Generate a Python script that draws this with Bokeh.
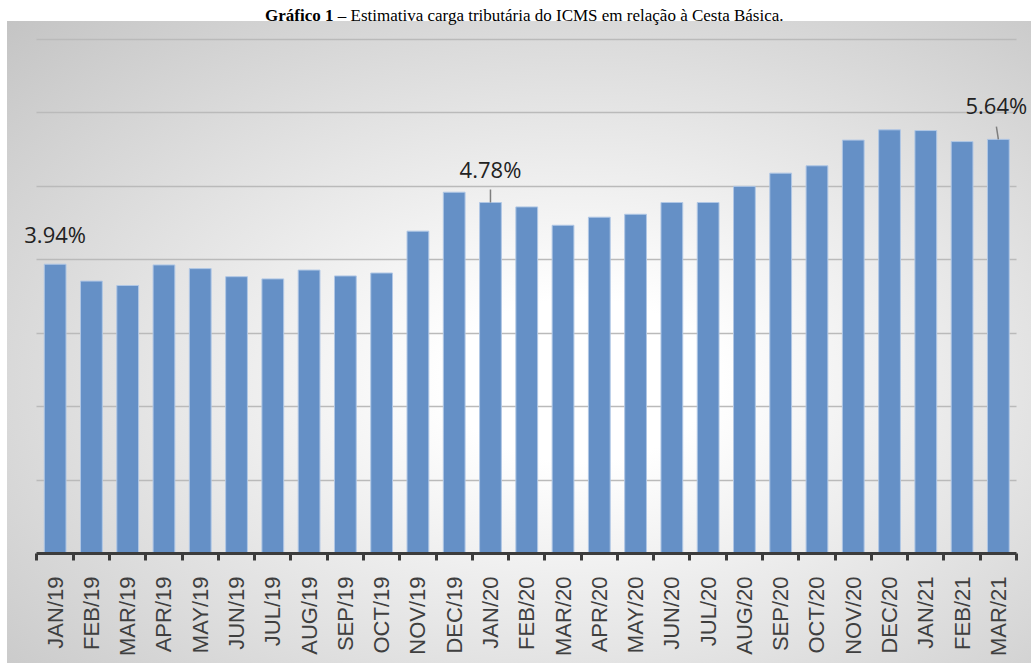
from math import pi
from bokeh.plotting import figure
from bokeh.models import ColumnDataSource, Range1d, FixedTicker, LabelSet, Label
from bokeh.core.properties import value
from bokeh.embed import file_html
from bokeh.resources import INLINE

# ---------------- data ----------------
months = ["JAN/19", "FEB/19", "MAR/19", "APR/19", "MAY/19", "JUN/19", "JUL/19",
          "AUG/19", "SEP/19", "OCT/19", "NOV/19", "DEC/19", "JAN/20", "FEB/20",
          "MAR/20", "APR/20", "MAY/20", "JUN/20", "JUL/20", "AUG/20", "SEP/20",
          "OCT/20", "NOV/20", "DEC/20", "JAN/21", "FEB/21", "MAR/21"]
icms_burden = [3.94, 3.71, 3.65, 3.93, 3.88, 3.77, 3.74, 3.86, 3.78, 3.82,
               4.39, 4.92, 4.78, 4.72, 4.47, 4.58, 4.62, 4.78, 4.78, 5.00,
               5.18, 5.28, 5.63, 5.77, 5.76, 5.61, 5.64]
labelled_months = ["JAN/19", "JAN/20", "MAR/21"]
label_texts = ["3.94%", "4.78%", "5.64%"]
grid_values = [1, 2, 3, 4, 5, 6, 7]
title_bold = "Gráfico 1"
title_rest = "\u00a0– Estimativa carga tributária do ICMS em relação à Cesta Básica."

# ---------------- styles ----------------
label_dx = [0, 0, -2]
label_dy = [21, 25, 25]
leader_months = ["JAN/20", "MAR/21"]
leader_angles = [90, 98.7]

N = len(months)
idx = list(range(N))

W, H = 1031, 663
p = figure(width=W, height=H, title=None,
           x_range=Range1d(-1.5061, N - 0.5 + 0.4135),
           y_range=Range1d(-1.498, 7.5311),
           output_backend="svg", toolbar_location=None,
           min_border_left=0, min_border_right=0, min_border_top=0,
           min_border_bottom=0,
           background_fill_color=None, border_fill_color=None,
           outline_line_color=None)

p.styles = {
    "background-color": "#ffffff",
    "background-image": "radial-gradient(ellipse farthest-corner at 56% 56%, "
                        "#ffffff 0%, #ffffff 16%, #c4c4c4 100%)",
    "background-position": "7px 21px",
    "background-size": "calc(100% - 7px) calc(100% - 21px)",
    "background-repeat": "no-repeat",
}

src = ColumnDataSource(dict(x=idx, top=icms_burden, month=months))
p.vbar(x="x", top="top", width=0.6, bottom=0, source=src,
       fill_color="#6590c6", line_color="#b0c7e5", line_width=1)

# y grid only
p.yaxis.visible = False
p.yaxis.ticker = FixedTicker(ticks=grid_values)
p.ygrid.grid_line_color = "#bababa"
p.ygrid.grid_line_width = 1.5
try:
    p.ygrid.cross_bounds = (-0.5, N - 0.5)
except Exception:
    pass
p.xgrid.visible = False

ax = p.xaxis[0]
ax.fixed_location = 0
ax.bounds = (-0.5, N - 0.5)
ax.ticker = FixedTicker(ticks=idx, minor_ticks=[i - 0.5 for i in range(N + 1)])
ax.major_label_overrides = {i: m for i, m in enumerate(months)}
ax.major_label_orientation = pi / 2
ax.major_tick_out = 0
ax.major_tick_in = 0
ax.minor_tick_out = 7
ax.minor_tick_in = 0
ax.minor_tick_line_width = 3
ax.minor_tick_line_color = "#3c3c3c"
ax.axis_line_width = 3
ax.axis_line_color = "#3c3c3c"
ax.major_label_text_font = "Liberation Sans"
ax.major_label_text_font_size = "22px"
ax.major_label_text_color = "#3f3f3f"
ax.major_label_standoff = 16

# data labels
lx = [months.index(m) for m in labelled_months]
ly = [icms_burden[i] for i in lx]
lsrc = ColumnDataSource(dict(x=lx, y=ly, text=label_texts, dx=label_dx, dy=label_dy))
p.add_layout(LabelSet(x="x", y="y", text="text", source=lsrc,
                      x_offset="dx", y_offset="dy",
                      text_align="center", text_baseline="alphabetic",
                      text_font=value("Open Sans"), text_font_size=value("22px"),
                      text_color="#222222"))

rx = [months.index(m) for m in leader_months]
ry = [icms_burden[i] for i in rx]
p.ray(x=rx, y=ry, length=13, length_units="screen", angle=leader_angles,
      angle_units="deg", line_color="#7f7f7f", line_width=1.5)

# title
split_x = 333
title_y = H - 15
p.add_layout(Label(x=split_x, y=title_y, x_units="screen", y_units="screen",
                   text=title_bold, text_font="Liberation Serif",
                   text_font_style="bold", text_font_size="17px",
                   text_align="right", text_baseline="alphabetic",
                   text_color="#000000"))
p.add_layout(Label(x=split_x, y=title_y, x_units="screen", y_units="screen",
                   text=title_rest, text_font="Liberation Serif",
                   text_font_size="17px",
                   text_align="left", text_baseline="alphabetic",
                   text_color="#000000"))

open("out.html", "w").write(file_html(p, INLINE))
